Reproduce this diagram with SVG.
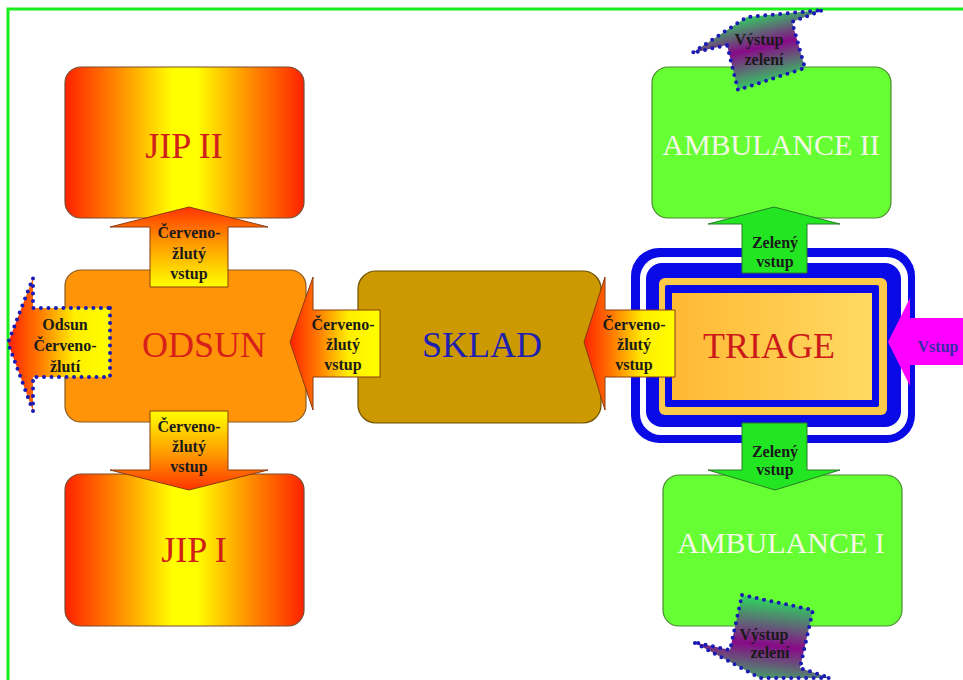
<svg xmlns="http://www.w3.org/2000/svg" width="963" height="680" viewBox="0 0 963 680">
<defs>
<style>
.box{stroke-width:1.2}
.big{font-family:"Liberation Serif","Times New Roman",serif;font-size:36px;text-anchor:middle}
.amb{font-family:"Liberation Serif","Times New Roman",serif;font-size:30px;text-anchor:middle;fill:#f6f6e4}
.lbl{font-family:"Liberation Serif","Times New Roman",serif;font-size:16px;font-weight:bold;text-anchor:middle;fill:#1a1a1a}
.ry{stroke:#8a3a10;stroke-width:1}
.gr{fill:#22e622;stroke:#2a7a2a;stroke-width:1}
.dot{stroke:#1a1ab4;stroke-width:4;stroke-linecap:round;stroke-dasharray:0 7.5;stroke-linejoin:round}
</style>
<linearGradient id="jip" x1="0" y1="0" x2="1" y2="0">
<stop offset="0" stop-color="#ff2200"/>
<stop offset="0.25" stop-color="#ff9900"/>
<stop offset="0.45" stop-color="#ffff00"/>
<stop offset="0.55" stop-color="#ffff00"/>
<stop offset="0.75" stop-color="#ff9900"/>
<stop offset="1" stop-color="#ff2200"/>
</linearGradient>
<linearGradient id="ryUp" x1="0" y1="0" x2="0" y2="1">
<stop offset="0" stop-color="#ff3300"/>
<stop offset="0.45" stop-color="#ff9900"/>
<stop offset="1" stop-color="#ffff00"/>
</linearGradient>
<linearGradient id="ryDown" x1="0" y1="1" x2="0" y2="0">
<stop offset="0" stop-color="#ff3300"/>
<stop offset="0.45" stop-color="#ff9900"/>
<stop offset="1" stop-color="#ffff00"/>
</linearGradient>
<linearGradient id="ryLeft" x1="0" y1="0" x2="1" y2="0">
<stop offset="0" stop-color="#ff2200"/>
<stop offset="0.3" stop-color="#ff7700"/>
<stop offset="0.65" stop-color="#ffee00"/>
<stop offset="1" stop-color="#ffff00"/>
</linearGradient>
<linearGradient id="tri" x1="0" y1="0" x2="1" y2="0">
<stop offset="0" stop-color="#ffb833"/>
<stop offset="1" stop-color="#ffda63"/>
</linearGradient>
<linearGradient id="vyTop" gradientUnits="userSpaceOnUse" x1="755" y1="14" x2="771" y2="84">
<stop offset="0" stop-color="#30d060"/>
<stop offset="0.47" stop-color="#880a88"/>
<stop offset="1" stop-color="#30d060"/>
</linearGradient>
<linearGradient id="vyBot" gradientUnits="userSpaceOnUse" x1="770" y1="600" x2="760" y2="690">
<stop offset="0" stop-color="#30d060"/>
<stop offset="0.5" stop-color="#880a88"/>
<stop offset="1" stop-color="#30d060"/>
</linearGradient>
</defs>
<rect x="0" y="0" width="963" height="680" fill="#ffffff"/>
<path d="M8,680 L8,9 L963,9" fill="none" stroke="#1aee1a" stroke-width="3"/>

<g id="jip2">
<rect class="box" x="65" y="67" width="239" height="151" rx="16" fill="url(#jip)" stroke="#7a4a30"/>
<text class="big" x="184" y="158" fill="#d0201a">JIP II</text>
</g>
<g id="odsun">
<rect class="box" x="65" y="270" width="241" height="152" rx="16" fill="#ff9408" stroke="#8a5a20"/>
<text class="big" x="204" y="357" fill="#d8201a">ODSUN</text>
</g>
<g id="jip1">
<rect class="box" x="65" y="474" width="239" height="152" rx="16" fill="url(#jip)" stroke="#7a4a30"/>
<text class="big" x="194" y="562" fill="#d0201a">JIP I</text>
</g>
<g id="sklad">
<rect class="box" x="358" y="271" width="243" height="152" rx="18" fill="#cc9900" stroke="#6b5000"/>
<text class="big" x="482" y="357" fill="#2020b0">SKLAD</text>
</g>
<g id="triage">
<rect x="631" y="248" width="284" height="195" rx="28" fill="#0a0ae6"/>
<rect x="640" y="257" width="268" height="178" rx="21" fill="#ffffff"/>
<rect x="646" y="263" width="255" height="164" rx="16" fill="#0a0ae6"/>
<rect x="659" y="278" width="228" height="137" rx="6" fill="#ffc94a"/>
<rect x="665" y="285" width="214" height="122" rx="2" fill="#0a0ae6"/>
<rect x="672" y="293" width="200" height="107" fill="url(#tri)"/>
<text class="big" x="769" y="358" fill="#cc1a1a">TRIAGE</text>
</g>
<g id="ambulance2">
<rect class="box" x="652" y="67" width="239" height="151" rx="16" fill="#66ff33" stroke="#4a8a30"/>
<text class="amb" x="771" y="155">AMBULANCE II</text>
</g>
<g id="ambulance1">
<rect class="box" x="663" y="475" width="239" height="151" rx="16" fill="#66ff33" stroke="#4a8a30"/>
<text class="amb" x="781" y="553">AMBULANCE I</text>
</g>

<g id="connectors">
<g id="odsun-jip2">
<path class="ry" d="M150,287 L150,227 L110,227 L189,207 L268,227 L228,227 L228,287 Z" fill="url(#ryUp)"/>
<text class="lbl" x="189" y="238">Červeno-</text>
<text class="lbl" x="189" y="259">žlutý</text>
<text class="lbl" x="189" y="279">vstup</text>
</g>
<g id="odsun-jip1">
<path class="ry" d="M150,411 L228,411 L228,470 L268,470 L189,490 L110,470 L150,470 Z" fill="url(#ryDown)"/>
<text class="lbl" x="189" y="432">Červeno-</text>
<text class="lbl" x="189" y="452">žlutý</text>
<text class="lbl" x="189" y="472">vstup</text>
</g>
<g id="sklad-odsun">
<path class="ry" d="M380,310 L380,377 L313,377 L313,410 L290,342 L313,277 L313,310 Z" fill="url(#ryLeft)"/>
<text class="lbl" x="343" y="330">Červeno-</text>
<text class="lbl" x="343" y="350">žlutý</text>
<text class="lbl" x="343" y="370">vstup</text>
</g>
<g id="triage-sklad">
<path class="ry" d="M675,310 L675,377 L605,377 L605,410 L584,342 L605,277 L605,310 Z" fill="url(#ryLeft)"/>
<text class="lbl" x="634" y="330">Červeno-</text>
<text class="lbl" x="634" y="350">žlutý</text>
<text class="lbl" x="634" y="370">vstup</text>
</g>
<g id="odsun-out">
<path class="dot" d="M110,308 L110,377 L33,377 L33,411 L8,343 L33,278 L33,308 Z" fill="url(#ryLeft)"/>
<text class="lbl" x="65" y="330">Odsun</text>
<text class="lbl" x="65" y="351">Červeno-</text>
<text class="lbl" x="65" y="372">žlutí</text>
</g>
<g id="triage-amb2">
<path class="gr" d="M742,273 L742,224 L708,224 L774,207 L840,224 L807,224 L807,273 Z"/>
<text class="lbl" x="775" y="248">Zelený</text>
<text class="lbl" x="775" y="267">vstup</text>
</g>
<g id="triage-amb1">
<path class="gr" d="M742,423 L807,423 L807,470 L840,470 L775,490 L708,470 L742,470 Z"/>
<text class="lbl" x="775" y="457">Zelený</text>
<text class="lbl" x="775" y="475">vstup</text>
</g>
<g id="vstup-in">
<path d="M963,318 L910,318 L910,298 L888,342 L910,386 L910,365 L963,365 Z" fill="#ff00ff"/>
<text class="lbl" x="938" y="352" style="fill:#3a2aa8">Vstup</text>
</g>
<g id="amb2-out">
<path class="dot" d="M727,45 L692,53 L747,17 L823,10 L792,22 L805,68 L738,90 Z" fill="url(#vyTop)"/>
<text class="lbl" x="759" y="45">Výstup</text>
<text class="lbl" x="764" y="65">zelení</text>
</g>
<g id="amb1-out">
<path class="dot" d="M742,595 L813,610 L800,668 L830,678 L760,678 L693,642 L730,650 Z" fill="url(#vyBot)"/>
<text class="lbl" x="764" y="640">Výstup</text>
<text class="lbl" x="770" y="658">zelení</text>
</g>
</g>
</svg>
